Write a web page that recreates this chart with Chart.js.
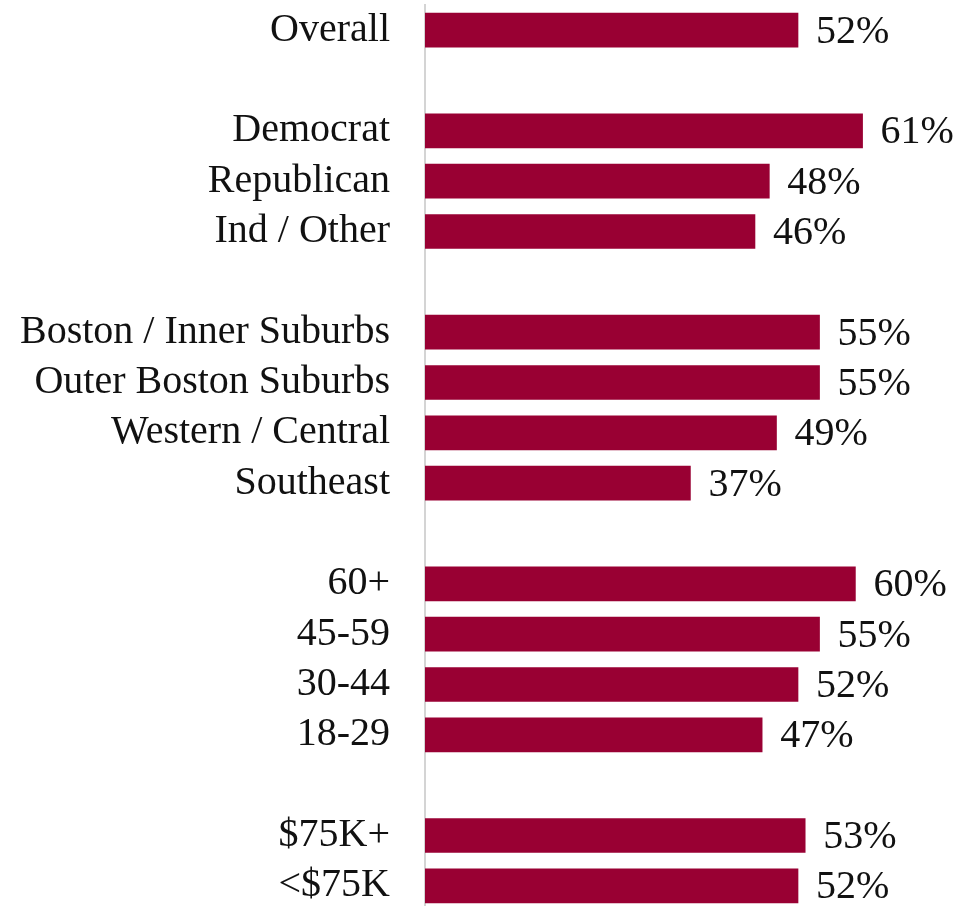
<!DOCTYPE html>
<html>
<head>
<meta charset="utf-8">
<script src="https://cdn.jsdelivr.net/npm/chart.js@4"></script>
<style>
  html, body { margin: 0; padding: 0; background: #fff; overflow: hidden; }
  #wrap { width: 964px; height: 912px; position: relative; }
</style>
</head>
<body>
<div id="wrap"><canvas id="myChart"></canvas></div>
<script>
// rows, with blank spacer rows between the groups
const groups = [
    'Overall', '',
    'Democrat', 'Republican', 'Ind / Other', '',
    'Boston / Inner Suburbs', 'Outer Boston Suburbs', 'Western / Central', 'Southeast', '',
    '60+', '45-59', '30-44', '18-29', '',
    '$75K+', '<$75K'
];
const shares = [
    52, null,
    61, 48, 46, null,
    55, 55, 49, 37, null,
    60, 55, 52, 47, null,
    53, 52
];

const fontFamily = '"Liberation Serif", serif';
const fontSize = 40;

// writes "NN%" just past the end of every bar
const valueLabels = {
    id: 'valueLabels',
    afterDatasetsDraw(chart) {
        const ctx = chart.ctx;
        const meta = chart.getDatasetMeta(0);
        ctx.save();
        ctx.font = fontSize + 'px ' + fontFamily;
        ctx.fillStyle = '#111';
        ctx.textAlign = 'left';
        ctx.textBaseline = 'middle';
        meta.data.forEach((bar, i) => {
            if (shares[i] === null) return;
            ctx.fillText(shares[i] + '%', bar.x + 18, bar.y + 2);
        });
        ctx.restore();
    }
};

const data = {
    labels: groups,
    datasets: [{
        data: shares,
        backgroundColor: '#990033',
        borderWidth: 0,
        barThickness: 34
    }]
};

const config = {
    type: 'bar',
    data,
    options: {
        indexAxis: 'y',
        responsive: true,
        maintainAspectRatio: false,
        animation: false,
        layout: { padding: { top: 5, right: 1, bottom: 1, left: 0 } },
        plugins: {
            legend: { display: false },
            tooltip: { enabled: false }
        },
        scales: {
            x: {
                display: false,
                min: 0,
                max: 75
            },
            y: {
                grid: { display: false, drawTicks: false },
                border: { display: true, color: '#d4d4d4', width: 2 },
                ticks: {
                    color: '#111',
                    padding: 35,
                    autoSkip: false,
                    font: { family: fontFamily, size: fontSize }
                },
                afterFit(scale) {
                    scale.width = 425;
                    scale.paddingTop = 0;
                    scale.paddingBottom = 0;
                }
            }
        }
    },
    plugins: [valueLabels]
};

const myChart = new Chart(document.getElementById('myChart'), config);
</script>
</body>
</html>
